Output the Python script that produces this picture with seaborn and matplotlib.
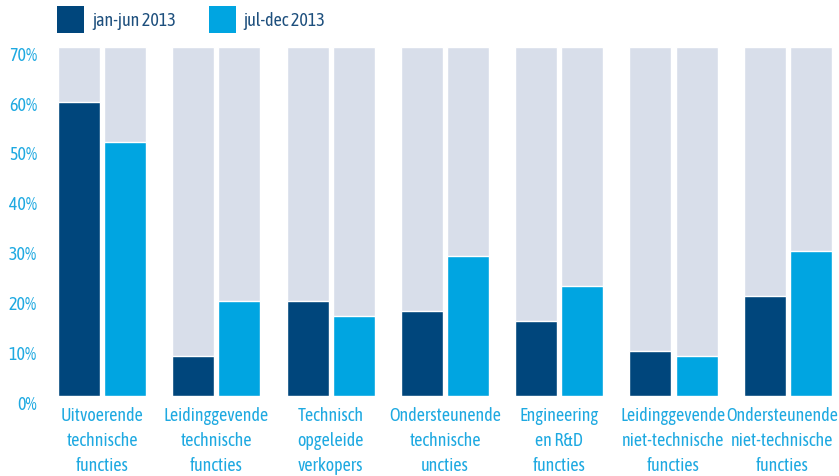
import matplotlib
matplotlib.use("Agg")
import matplotlib.pyplot as plt
import matplotlib.transforms as mtransforms
from matplotlib.patches import Patch
from matplotlib import font_manager
import seaborn as sns
import pandas as pd

categories = [
    "Uitvoerende\ntechnische\nfuncties",
    "Leidinggevende\ntechnische\nfuncties",
    "Technisch\nopgeleide\nverkopers",
    "Ondersteunende\ntechnische\nuncties",
    "Engineering\nen R&D\nfuncties",
    "Leidinggevende\nniet-technische\nfuncties",
    "Ondersteunende\nniet-technische\nfuncties",
]
series_names = ["jan-jun 2013", "jul-dec 2013"]
jan_jun = [59, 8, 19, 17, 15, 9, 20]
jul_dec = [51, 19, 16, 28, 22, 8, 29]
background_max = 70
y_ticks = [0, 10, 20, 30, 40, 50, 60, 70]
y_tick_labels = [f"{t}%" for t in y_ticks]

DARK = "#00467c"
LIGHT = "#00a5e1"
BG = "#d8deea"
TICK = "#1ea9e1"
LEGTXT = "#1d4f7d"

sns.set_style("white")
names = {f.name for f in font_manager.fontManager.ttflist}
fams = [n for n in ["Asap Condensed", "Barlow Condensed", "Archivo Narrow"] if n in names]
plt.rcParams["font.family"] = fams + ["DejaVu Sans"]
FS = 13

df = pd.DataFrame({
    "cat": categories * 2,
    "period": [series_names[0]] * len(categories) + [series_names[1]] * len(categories),
    "value": jan_jun + jul_dec,
})
df["bg"] = background_max

W, H = 839, 477
fig = plt.figure(figsize=(W / 100, H / 100), dpi=100)
left_px, right_px, top_px, bottom_px = 50, 839, 47.7, 397
ax = fig.add_axes([left_px / W, (H - bottom_px) / H, (right_px - left_px) / W, (bottom_px - top_px) / H])

sns.barplot(data=df, x="cat", y="bg", hue="period", palette=[BG, BG], width=0.807, gap=0.088,
            ax=ax, legend=False, saturation=1, errorbar=None)
sns.barplot(data=df, x="cat", y="value", hue="period", palette=[DARK, LIGHT], width=0.807, gap=0.088,
            ax=ax, legend=False, saturation=1, errorbar=None)

unit = 114.3
ax.set_xlim((left_px - 102) / unit, (right_px - 102) / unit)
ax.set_ylim(0, background_max)
ax.set_yticks(y_ticks)
ax.set_yticklabels(y_tick_labels)
ax.set_xlabel("")
ax.set_ylabel("")
for s in ax.spines.values():
    s.set_visible(False)
ax.tick_params(axis="both", length=0, labelsize=FS, labelcolor=TICK)
ax.tick_params(axis="y", pad=9.4)
ax.tick_params(axis="x", pad=7)
xlabs = ax.get_xticklabels()
for lab in xlabs:
    lab.set_linespacing(1.5)
    lab.set_verticalalignment("top")
shift_last = mtransforms.ScaledTranslation(-6 / 100, 0, fig.dpi_scale_trans)
xlabs[-1].set_transform(xlabs[-1].get_transform() + shift_last)
offset = mtransforms.ScaledTranslation(0, -6 / 100, fig.dpi_scale_trans)
for lab in ax.get_yticklabels():
    lab.set_transform(lab.get_transform() + offset)

handles = [Patch(facecolor=DARK, edgecolor="none"), Patch(facecolor=LIGHT, edgecolor="none")]
leg = fig.legend(handles, series_names, loc="upper left", bbox_to_anchor=(57 / W, 1 - 7 / H),
                 ncol=2, frameon=False, fontsize=FS, handlelength=1.5, handleheight=1.9,
                 handletextpad=0.45, columnspacing=1.8, borderaxespad=0, borderpad=0)
for t in leg.get_texts():
    t.set_color(LEGTXT)

fig.savefig("out.png", dpi=100)
